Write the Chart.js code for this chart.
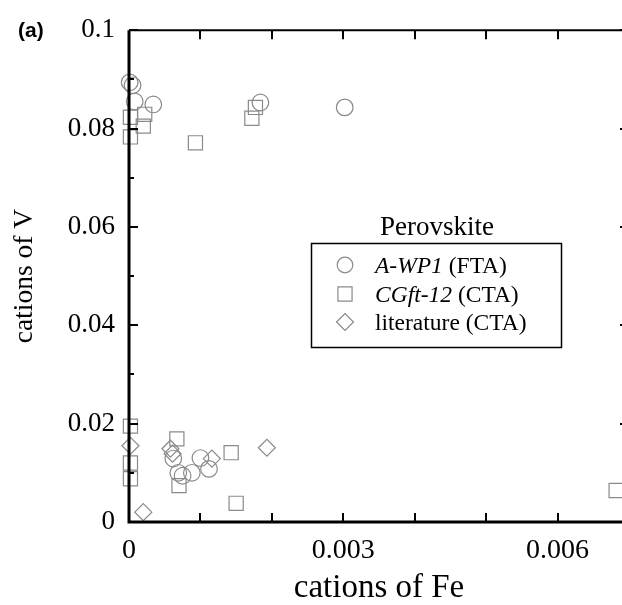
<!DOCTYPE html>
<html>
<head>
<meta charset="utf-8">
<script src="https://cdn.jsdelivr.net/npm/chart.js@4.4.1/dist/chart.umd.min.js"></script>
<style>
  body { margin: 0; background: #fff; overflow: hidden; }
  #wrap { width: 622px; height: 605px; overflow: hidden; position: relative; }
</style>
</head>
<body>
<div id="wrap"><canvas id="chart" width="629" height="605"></canvas></div>
<script>
// A-WP1 (FTA) - circles
const awpFe = [0.00001, 0.00005, 0.00008, 0.00034, 0.00184, 0.00302,
               0.00062, 0.00069, 0.00075, 0.00088, 0.00100, 0.00112];
const awpV  = [0.0894, 0.0888, 0.0855, 0.0849, 0.0853, 0.0843,
               0.0129, 0.0100, 0.0094, 0.0100, 0.0130, 0.0108];

// CGft-12 (CTA) - squares
const cgfFe = [0.00002, 0.00022, 0.00020, 0.00002, 0.00093, 0.00177, 0.00172,
               0.00002, 0.00002, 0.00002, 0.00067, 0.00070, 0.00143, 0.00150, 0.00682];
const cgfV  = [0.0823, 0.0829, 0.0805, 0.0783, 0.0771, 0.0843, 0.0821,
               0.0195, 0.0120, 0.0088, 0.0169, 0.0074, 0.0141, 0.0038, 0.0064];

// literature (CTA) - diamonds
const litFe = [0.00002, 0.00058, 0.00061, 0.00116, 0.00193, 0.00020];
const litV  = [0.0155, 0.0149, 0.0139, 0.0129, 0.0151, 0.0020];

const xTickVals = [0, 0.003, 0.006];
const xTickLabels = ['0', '0.003', '0.006'];
const xMinorVals = [0.001, 0.002, 0.003, 0.004, 0.005, 0.006, 0.007];
const yTickVals = [0, 0.02, 0.04, 0.06, 0.08, 0.1];
const yTickLabels = ['0', '0.02', '0.04', '0.06', '0.08', '0.1'];
const yMinorVals = [0.01, 0.03, 0.05, 0.07, 0.09];

const legendRows = [
  { style: 'circle', italic: 'A-WP1', plain: ' (FTA)' },
  { style: 'rect', italic: 'CGft-12', plain: ' (CTA)' },
  { style: 'rectRot', italic: '', plain: 'literature (CTA)' }
];

const markerColor = '#8a8a8a';
const serif = '"Liberation Serif", "Times New Roman", serif';

function pts(xs, ys) {
  return xs.map((x, i) => ({ x: x, y: ys[i] }));
}

// frame, inward ticks, legend and panel label
const framePlugin = {
  id: 'frame',
  afterDraw(chart) {
    const ctx = chart.ctx;
    const a = chart.chartArea;
    const xs = chart.scales.x, ys = chart.scales.y;
    ctx.save();
    ctx.strokeStyle = '#000';
    ctx.lineCap = 'butt';

    // ticks
    ctx.lineWidth = 2;
    ctx.beginPath();
    xMinorVals.forEach(v => {
      const px = Math.round(xs.getPixelForValue(v));
      ctx.moveTo(px, a.bottom); ctx.lineTo(px, a.bottom - 9);
      ctx.moveTo(px, a.top); ctx.lineTo(px, a.top + 9);
    });
    yTickVals.forEach(v => {
      const py = Math.round(ys.getPixelForValue(v));
      ctx.moveTo(a.left, py); ctx.lineTo(a.left + 9, py);
      ctx.moveTo(a.right, py); ctx.lineTo(a.right - 9, py);
    });
    yMinorVals.forEach(v => {
      const py = Math.round(ys.getPixelForValue(v));
      ctx.moveTo(a.left, py); ctx.lineTo(a.left + 5, py);
    });
    ctx.stroke();

    // frame
    ctx.lineWidth = 3;
    ctx.beginPath();
    ctx.moveTo(a.left, a.top);
    ctx.lineTo(a.left, a.bottom);
    ctx.lineTo(a.right, a.bottom);
    ctx.stroke();
    ctx.lineWidth = 2;
    ctx.beginPath();
    ctx.moveTo(a.left, a.top);
    ctx.lineTo(a.right, a.top);
    ctx.lineTo(a.right, a.bottom);
    ctx.stroke();

    // legend
    const bx = 311, by = 243, bw = 250, bh = 104;
    ctx.lineWidth = 1.5;
    ctx.strokeRect(bx + 0.5, by + 0.5, bw, bh);
    ctx.fillStyle = '#000';
    ctx.font = '27px ' + serif;
    ctx.textAlign = 'center';
    ctx.textBaseline = 'alphabetic';
    ctx.fillText('Perovskite', 437, 235);

    const rowY = [265, 294, 322];
    legendRows.forEach((r, i) => {
      const y = rowY[i];
      ctx.strokeStyle = markerColor;
      ctx.fillStyle = 'rgba(0,0,0,0)';
      ctx.lineWidth = 1.2;
      Chart.helpers.drawPoint(ctx, { pointStyle: r.style, radius: r.style === 'rect' ? 10 : (r.style === 'circle' ? 7.8 : 8.5), rotation: 0, borderWidth: 1.2 }, 345, y);
      ctx.textAlign = 'left';
      ctx.fillStyle = '#000';
      let tx = 375;
      if (r.italic) {
        ctx.font = 'italic 23.5px ' + serif;
        ctx.fillText(r.italic, tx, y + 8);
        tx += ctx.measureText(r.italic).width;
      }
      ctx.font = '23.5px ' + serif;
      ctx.fillText(r.plain, tx, y + 8);
    });

    // panel label
    ctx.font = 'bold 21px "Liberation Sans", Arial, sans-serif';
    ctx.textAlign = 'left';
    ctx.textBaseline = 'middle';
    ctx.fillStyle = '#000';
    ctx.fillText('(a)', 18, 31);
    ctx.restore();
  }
};

Chart.defaults.font.family = serif;
Chart.defaults.color = '#000';

new Chart(document.getElementById('chart').getContext('2d'), {
  type: 'scatter',
  data: {
    datasets: [
      {
        label: 'A-WP1 (FTA)',
        data: pts(awpFe, awpV),
        pointStyle: 'circle',
        pointRadius: 8.3,
        borderColor: markerColor,
        backgroundColor: 'rgba(0,0,0,0)',
        borderWidth: 1.2
      },
      {
        label: 'CGft-12 (CTA)',
        data: pts(cgfFe, cgfV),
        pointStyle: 'rect',
        pointRadius: 10,
        borderColor: markerColor,
        backgroundColor: 'rgba(0,0,0,0)',
        borderWidth: 1.2
      },
      {
        label: 'literature (CTA)',
        data: pts(litFe, litV),
        pointStyle: 'rectRot',
        pointRadius: 8.5,
        borderColor: markerColor,
        backgroundColor: 'rgba(0,0,0,0)',
        borderWidth: 1.2
      }
    ]
  },
  options: {
    responsive: false,
    animation: false,
    clip: false,
    layout: { autoPadding: false, padding: { top: 24, right: 0, left: 0, bottom: 0 } },
    plugins: {
      legend: { display: false },
      tooltip: { enabled: false }
    },
    scales: {
      x: {
        type: 'linear',
        min: 0,
        max: 0.007,
        grid: { display: false, drawTicks: false },
        border: { display: false },
        afterBuildTicks: s => { s.ticks = xTickVals.map(v => ({ value: v })); },
        afterFit: s => { s.height = 83; s.paddingRight = 0; },
        ticks: {
          padding: 12,
          maxRotation: 0,
          autoSkip: false,
          font: { size: 28 },
          callback: (v) => xTickLabels[xTickVals.indexOf(v)]
        },
        title: {
          display: true,
          text: 'cations of Fe',
          font: { size: 33 },
          padding: { top: 0, bottom: -3 }
        }
      },
      y: {
        type: 'linear',
        min: 0,
        max: 0.1,
        grid: { display: false, drawTicks: false },
        border: { display: false },
        afterBuildTicks: s => { s.ticks = yTickVals.map(v => ({ value: v })); },
        afterFit: s => { s.width = 129; },
        ticks: {
          padding: 14,
          autoSkip: false,
          font: { size: 27 },
          callback: (v) => yTickLabels[yTickVals.indexOf(v)]
        },
        title: {
          display: true,
          text: 'cations of V',
          font: { size: 27.5 },
          padding: { top: 8, bottom: 0 }
        }
      }
    }
  },
  plugins: [framePlugin]
});
</script>
</body>
</html>
